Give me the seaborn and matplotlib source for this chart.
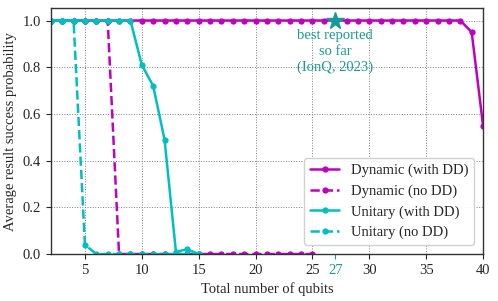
import matplotlib

matplotlib.use("Agg")
import matplotlib.pyplot as plt
import pandas as pd
import seaborn as sns

# 数据
dyn_dd_x = [2, 3, 4, 5, 6, 7, 8, 9, 10, 11, 12, 13, 14, 15, 16, 17, 18, 19, 20, 21,
            22, 23, 24, 25, 26, 27, 28, 29, 30, 31, 32, 33, 34, 35, 36, 37, 38, 39, 40]
dyn_dd_y = [1.0, 1.0, 1.0, 1.0, 1.0, 1.0, 1.0, 1.0, 1.0, 1.0, 1.0, 1.0, 1.0, 1.0, 1.0, 1.0,
            1.0, 1.0, 1.0, 1.0, 1.0, 1.0, 1.0, 1.0, 1.0, 1.0, 1.0, 1.0, 1.0, 1.0, 1.0, 1.0,
            1.0, 1.0, 1.0, 1.0, 1.0, 0.95, 0.55]

dyn_nodd_x = [2, 3, 4, 5, 6, 7, 8, 9, 10, 11, 12, 13, 14, 15, 16, 17, 18, 19, 20, 21,
              22, 23, 24, 25]
dyn_nodd_y = [1.0, 1.0, 1.0, 1.0, 1.0, 1.0, 0.0, 0.0, 0.0, 0.0, 0.0, 0.0, 0.0, 0.0, 0.0,
              0.0, 0.0, 0.0, 0.0, 0.0, 0.0, 0.0, 0.0, 0.0]

uni_dd_x = [2, 3, 4, 5, 6, 7, 8, 9, 10, 11, 12, 13, 14, 15]
uni_dd_y = [1.0, 1.0, 1.0, 1.0, 1.0, 1.0, 1.0, 1.0, 0.81, 0.72, 0.49, 0.01, 0.02, 0.0]

uni_nodd_x = [2, 3, 4, 5, 6, 7, 8, 9, 10, 11, 12, 13, 14, 15]
uni_nodd_y = [1.0, 1.0, 1.0, 0.04, 0.0, 0.0, 0.0, 0.0, 0.0, 0.0, 0.0, 0.0, 0.0, 0.0]

best_x = 27
best_y = 1.0
best_text = "best reported\nso far\n(IonQ, 2023)"

x_ticks = [5, 10, 15, 20, 25, 30, 35, 40]
y_ticks = [0.0, 0.2, 0.4, 0.6, 0.8, 1.0]

magenta = "#bf00bf"
cyan = "#00bfbf"
teal = "#169a96"

series = [
    ("Dynamic (with DD)", dyn_dd_x, dyn_dd_y, magenta, "-"),
    ("Dynamic (no DD)", dyn_nodd_x, dyn_nodd_y, magenta, "--"),
    ("Unitary (with DD)", uni_dd_x, uni_dd_y, cyan, "-"),
    ("Unitary (no DD)", uni_nodd_x, uni_nodd_y, cyan, "--"),
]

sns.set_style("ticks")
plt.rcParams["font.family"] = ["Liberation Serif", "DejaVu Serif"]
plt.rcParams["font.size"] = 10.5

fig = plt.figure(figsize=(4.98, 3.01), dpi=100)
ax = fig.add_axes([0.102, 0.156, 0.868, 0.817])

for name, xs, ys, col, ls in series:
    df = pd.DataFrame({"x": xs, "y": ys})
    sns.lineplot(data=df, x="x", y="y", ax=ax, color=col, linestyle=ls, linewidth=1.8,
                 marker="o", markersize=4.5, markeredgewidth=0, label=name)

ax.plot([best_x], [best_y], marker="*", color=teal, markersize=13, linestyle="none", zorder=5)
ax.text(best_x, 0.965, best_text, color=teal, ha="center", va="top", fontsize=10.5,
        linespacing=1.3)

ax.set_xlim(2, 40)
ax.set_ylim(0, 1.053)
ax.set_xticks(x_ticks)
ax.set_yticks(y_ticks)
ax.set_yticklabels([f"{v:.1f}" for v in y_ticks])
ax.set_xticks([best_x], minor=True)
ax.set_xticklabels([str(best_x)], minor=True, color=teal)
ax.tick_params(axis="x", which="minor", length=3.5, color=teal, width=0.8)
ax.tick_params(which="major", length=3.5, width=0.8, direction="out")
ax.grid(True, which="major", linestyle=":", color="gray", linewidth=0.7)
ax.set_xlabel("Total number of qubits")
ax.set_ylabel("Average result success probability")
for s in ax.spines.values():
    s.set_linewidth(1.0)
    s.set_color("#333333")

ax.legend(loc="lower right", fancybox=True, framealpha=0.9, borderaxespad=0.6)

plt.savefig("out.png", dpi=100)
plt.close()
